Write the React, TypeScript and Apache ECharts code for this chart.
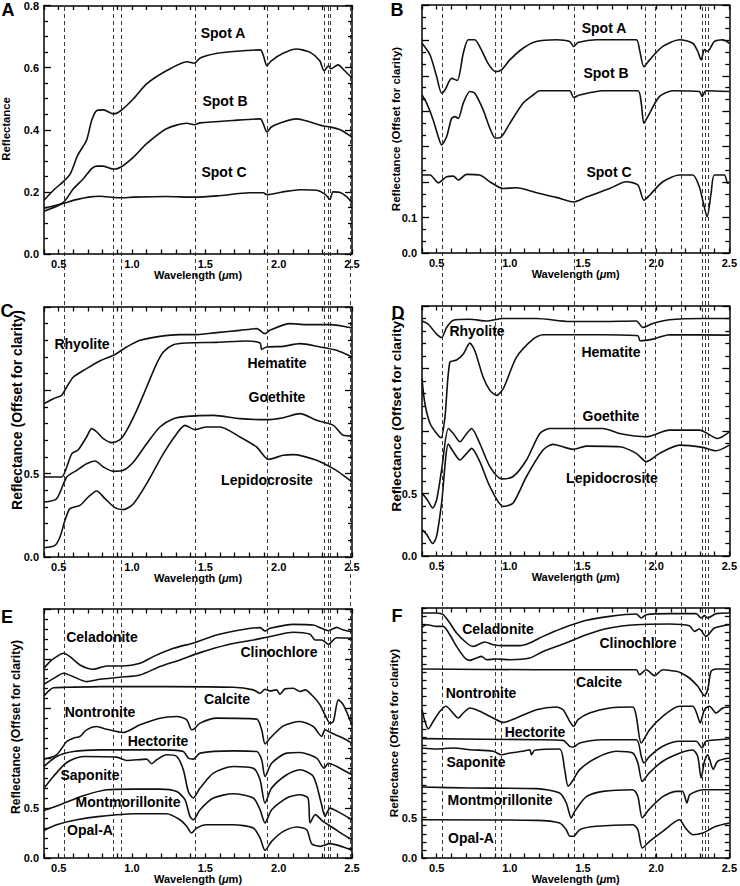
import React, { useEffect, useRef } from "react";
import * as echarts from "echarts";

type P = [number, number][];

const FONT = '"Liberation Sans", Arial, Helvetica, sans-serif';

// ---------- Panel A : reflectance of spots ----------
const spotNames = ["Spot A", "Spot B", "Spot C"];
const spotA_A: P = [[0.40,0.173],[0.475,0.21],[0.53,0.232],[0.58,0.259],[0.63,0.318],[0.69,0.366],[0.725,0.43],[0.76,0.462],[0.805,0.464],[0.875,0.451],[0.925,0.462],[1.01,0.5],[1.10,0.548],[1.235,0.59],[1.375,0.619],[1.425,0.614],[1.465,0.631],[1.58,0.646],[1.69,0.652],[1.875,0.657],[1.895,0.64],[1.92,0.606],[1.95,0.622],[2.03,0.646],[2.12,0.66],[2.215,0.649],[2.28,0.622],[2.31,0.59],[2.34,0.606],[2.355,0.596],[2.405,0.609],[2.45,0.59],[2.5,0.567]];
const spotB_A: P = [[0.40,0.138],[0.53,0.165],[0.6,0.21],[0.67,0.243],[0.725,0.275],[0.76,0.283],[0.805,0.283],[0.875,0.273],[0.925,0.28],[1.01,0.312],[1.10,0.355],[1.235,0.403],[1.375,0.421],[1.425,0.416],[1.465,0.422],[1.69,0.43],[1.875,0.435],[1.895,0.419],[1.92,0.393],[1.95,0.409],[2.03,0.425],[2.12,0.435],[2.215,0.425],[2.305,0.412],[2.35,0.409],[2.42,0.4],[2.5,0.376]];
const spotC_A: P = [[0.40,0.147],[0.53,0.163],[0.62,0.175],[0.715,0.184],[0.78,0.186],[0.875,0.182],[0.92,0.181],[1.01,0.183],[1.235,0.185],[1.425,0.183],[1.58,0.187],[1.805,0.197],[1.895,0.197],[1.92,0.191],[2.03,0.2],[2.145,0.207],[2.26,0.205],[2.315,0.193],[2.35,0.176],[2.37,0.2],[2.42,0.198],[2.465,0.184],[2.5,0.165]];

// ---------- Panel B : offset spectra of spots ----------
const spotA_B: P = [[0.40,0.592],[0.455,0.559],[0.50,0.498],[0.534,0.451],[0.557,0.46],[0.602,0.493],[0.641,0.487],[0.682,0.564],[0.716,0.602],[0.76,0.602],[0.805,0.574],[0.85,0.536],[0.902,0.512],[0.943,0.517],[1.0,0.545],[1.09,0.578],[1.18,0.597],[1.318,0.602],[1.409,0.597],[1.436,0.583],[1.466,0.594],[1.59,0.602],[1.864,0.602],[1.886,0.574],[1.916,0.526],[1.955,0.545],[2.045,0.583],[2.16,0.602],[2.25,0.592],[2.284,0.569],[2.307,0.545],[2.33,0.574],[2.352,0.569],[2.398,0.597],[2.455,0.602],[2.5,0.592]];
const spotB_B: P = [[0.40,0.446],[0.432,0.423],[0.477,0.375],[0.511,0.328],[0.534,0.305],[0.568,0.328],[0.602,0.38],[0.625,0.385],[0.648,0.38],[0.682,0.423],[0.727,0.456],[0.761,0.451],[0.818,0.404],[0.864,0.352],[0.902,0.324],[0.943,0.328],[1.0,0.366],[1.09,0.423],[1.159,0.446],[1.205,0.458],[1.409,0.458],[1.436,0.439],[1.477,0.446],[1.636,0.458],[1.875,0.458],[1.898,0.423],[1.916,0.366],[1.943,0.385],[2.023,0.442],[2.114,0.458],[2.295,0.456],[2.314,0.442],[2.34,0.458],[2.5,0.456]];
const spotC_B: P = [[0.40,0.22],[0.455,0.22],[0.511,0.198],[0.568,0.215],[0.614,0.217],[0.648,0.206],[0.705,0.222],[0.795,0.22],[0.864,0.201],[0.955,0.182],[1.045,0.184],[1.182,0.17],[1.318,0.157],[1.436,0.144],[1.523,0.158],[1.682,0.182],[1.795,0.201],[1.875,0.192],[1.916,0.149],[1.955,0.163],[2.045,0.201],[2.16,0.22],[2.25,0.22],[2.295,0.187],[2.318,0.149],[2.348,0.102],[2.375,0.168],[2.398,0.22],[2.466,0.22],[2.489,0.196],[2.5,0.201]];

// ---------- Panel C / D : iron minerals ----------
const ironNames = ["Rhyolite", "Hematite", "Goethite", "Lepidocrosite"];
const rhyolite_C: P = [[0.4,0.92],[0.464,0.95],[0.52,0.97],[0.555,1.02],[0.6,1.08],[0.69,1.13],[0.78,1.176],[0.873,1.21],[0.964,1.26],[1.055,1.30],[1.19,1.324],[1.327,1.334],[1.44,1.334],[1.577,1.346],[1.736,1.36],[1.85,1.37],[1.907,1.34],[1.94,1.36],[2.077,1.40],[2.19,1.394],[2.35,1.394],[2.5,1.374]];
const hematite_C: P = [[0.4,0.48],[0.52,0.48],[0.555,0.54],[0.59,0.62],[0.634,0.644],[0.69,0.72],[0.725,0.77],[0.76,0.75],[0.805,0.71],[0.861,0.686],[0.918,0.704],[0.964,0.76],[1.032,0.88],[1.1,1.02],[1.168,1.16],[1.214,1.23],[1.282,1.274],[1.373,1.284],[1.577,1.288],[1.782,1.296],[1.873,1.284],[1.884,1.246],[1.918,1.26],[2.032,1.264],[2.145,1.28],[2.282,1.26],[2.395,1.24],[2.5,1.20]];
const goethite_C: P = [[0.4,0.33],[0.486,0.35],[0.555,0.48],[0.623,0.52],[0.69,0.56],[0.748,0.576],[0.805,0.54],[0.873,0.514],[0.941,0.52],[1.01,0.57],[1.1,0.68],[1.19,0.78],[1.282,0.83],[1.373,0.844],[1.555,0.85],[1.736,0.83],[1.918,0.824],[2.032,0.836],[2.145,0.86],[2.259,0.82],[2.373,0.79],[2.441,0.73],[2.5,0.726]];
const lepido_C: P = [[0.4,0.056],[0.475,0.07],[0.509,0.12],[0.543,0.22],[0.577,0.29],[0.645,0.31],[0.702,0.36],[0.759,0.396],[0.816,0.35],[0.884,0.296],[0.941,0.284],[1.01,0.32],[1.1,0.44],[1.214,0.62],[1.305,0.74],[1.361,0.79],[1.43,0.764],[1.509,0.78],[1.6,0.78],[1.736,0.72],[1.85,0.66],[1.93,0.586],[2.032,0.61],[2.1,0.614],[2.259,0.58],[2.373,0.53],[2.441,0.49],[2.5,0.45]];
const rhyolite_D: P = [[0.4,1.88],[0.443,1.854],[0.5,1.775],[0.534,1.748],[0.568,1.828],[0.614,1.886],[0.727,1.894],[0.841,1.88],[0.955,1.9],[1.182,1.9],[1.409,1.876],[1.636,1.876],[1.864,1.88],[1.909,1.828],[1.977,1.86],[2.09,1.89],[2.318,1.9],[2.5,1.9]];
const hematite_D: P = [[0.4,1.417],[0.42,1.218],[0.455,1.06],[0.5,0.98],[0.53,0.946],[0.557,1.113],[0.59,1.55],[0.636,1.568],[0.682,1.616],[0.727,1.703],[0.761,1.642],[0.818,1.43],[0.864,1.325],[0.909,1.285],[0.955,1.338],[1.045,1.589],[1.159,1.735],[1.227,1.77],[1.636,1.77],[1.875,1.762],[1.89,1.722],[1.977,1.735],[2.09,1.77],[2.5,1.767]];
const goethite_D: P = [[0.4,0.503],[0.436,0.45],[0.473,0.384],[0.5,0.45],[0.534,0.689],[0.58,1.02],[0.614,0.98],[0.659,0.914],[0.705,0.98],[0.739,1.02],[0.795,0.9],[0.864,0.715],[0.943,0.617],[1.023,0.636],[1.114,0.768],[1.205,0.98],[1.273,1.02],[1.636,1.02],[1.75,0.98],[1.932,0.954],[2.09,1.007],[2.295,1.007],[2.42,0.94],[2.5,0.993]];
const lepido_D: P = [[0.4,0.212],[0.432,0.172],[0.473,0.1],[0.5,0.159],[0.534,0.424],[0.58,0.895],[0.614,0.834],[0.659,0.768],[0.705,0.821],[0.739,0.861],[0.795,0.755],[0.864,0.556],[0.955,0.397],[1.023,0.424],[1.114,0.636],[1.227,0.848],[1.295,0.893],[1.432,0.853],[1.523,0.879],[1.75,0.874],[1.864,0.821],[1.932,0.755],[2.023,0.821],[2.159,0.887],[2.318,0.869],[2.409,0.842],[2.5,0.887]];

// ---------- Panel E / F : clays and others ----------
const clayNames = ["Celadonite", "Clinochlore", "Calcite", "Nontronite", "Hectorite", "Saponite", "Montmorillonite", "Opal-A"];
const celadonite_E: P = [[0.4,1.905],[0.44,1.972],[0.486,2.022],[0.532,2.055],[0.577,2.022],[0.645,1.938],[0.736,1.895],[0.827,1.928],[0.941,1.928],[1.055,1.955],[1.145,2.022],[1.282,2.105],[1.425,2.162],[1.577,2.239],[1.736,2.289],[1.873,2.313],[1.907,2.279],[1.941,2.306],[2.1,2.346],[2.236,2.339],[2.293,2.306],[2.339,2.282],[2.395,2.316],[2.441,2.289],[2.5,2.272]];
const clinochlore_E: P = [[0.4,1.745],[0.486,1.821],[0.532,1.855],[0.6,1.821],[0.69,1.771],[0.782,1.795],[0.918,1.815],[1.055,1.838],[1.19,1.922],[1.327,1.989],[1.464,2.062],[1.645,2.139],[1.827,2.189],[1.918,2.216],[2.1,2.266],[2.214,2.246],[2.248,2.189],[2.293,2.189],[2.339,2.146],[2.395,2.212],[2.5,2.206]];
const calcite_E: P = [[0.4,1.628],[0.465,1.71],[0.555,1.714],[0.782,1.721],[1.236,1.721],[1.69,1.714],[1.827,1.688],[1.873,1.654],[1.907,1.694],[1.941,1.678],[1.986,1.688],[2.009,1.644],[2.043,1.698],[2.1,1.704],[2.145,1.671],[2.18,1.688],[2.236,1.621],[2.282,1.537],[2.316,1.437],[2.35,1.354],[2.373,1.37],[2.407,1.588],[2.441,1.537],[2.5,1.337]];
const nontronite_E: P = [[0.4,0.993],[0.486,1.036],[0.555,1.17],[0.6,1.203],[0.645,1.22],[0.69,1.287],[0.759,1.32],[0.827,1.293],[0.941,1.26],[1.055,1.337],[1.19,1.404],[1.305,1.42],[1.373,1.387],[1.407,1.287],[1.43,1.304],[1.464,1.354],[1.577,1.404],[1.85,1.394],[1.884,1.287],[1.907,1.146],[1.941,1.203],[2.032,1.327],[2.145,1.37],[2.236,1.32],[2.293,1.22],[2.316,1.287],[2.361,1.254],[2.441,1.203],[2.5,1.153]];
const hectorite_E: P = [[0.4,0.919],[0.486,1.019],[0.6,1.069],[0.782,1.086],[1.236,1.086],[1.35,1.069],[1.384,1.003],[1.418,0.993],[1.464,1.053],[1.69,1.076],[1.85,1.069],[1.884,0.986],[1.907,0.819],[1.952,0.952],[2.055,1.053],[2.145,1.059],[2.259,1.003],[2.309,0.902],[2.339,0.952],[2.418,0.902],[2.5,0.836]];
const saponite_E: P = [[0.4,0.702],[0.464,0.819],[0.555,0.959],[0.668,1.019],[0.895,1.013],[0.964,0.979],[1.1,0.993],[1.134,0.946],[1.168,0.986],[1.236,1.036],[1.305,1.019],[1.35,0.886],[1.384,0.668],[1.418,0.602],[1.464,0.702],[1.555,0.852],[1.69,0.919],[1.827,0.902],[1.873,0.785],[1.907,0.551],[1.952,0.702],[2.055,0.836],[2.145,0.886],[2.236,0.819],[2.29,0.552],[2.316,0.418],[2.35,0.501],[2.4,0.468],[2.5,0.384]];
const montmor_E: P = [[0.4,0.478],[0.509,0.535],[0.668,0.625],[0.827,0.685],[1.009,0.692],[1.19,0.692],[1.305,0.668],[1.361,0.585],[1.395,0.418],[1.418,0.384],[1.464,0.485],[1.555,0.602],[1.69,0.645],[1.827,0.602],[1.873,0.485],[1.907,0.351],[1.952,0.485],[2.055,0.602],[2.145,0.635],[2.2,0.602],[2.214,0.351],[2.25,0.435],[2.3,0.37],[2.373,0.301],[2.441,0.234],[2.5,0.184]];
const opal_E: P = [[0.4,0.277],[0.486,0.334],[0.623,0.384],[0.782,0.418],[1.009,0.445],[1.236,0.445],[1.327,0.384],[1.373,0.318],[1.407,0.251],[1.441,0.301],[1.509,0.334],[1.69,0.334],[1.827,0.301],[1.873,0.201],[1.907,0.077],[1.952,0.167],[2.032,0.267],[2.123,0.311],[2.191,0.284],[2.225,0.144],[2.282,0.117],[2.35,0.144],[2.441,0.11],[2.5,0.077]];
const celadonite_F: P = [[0.4,3.038],[0.5,3.038],[0.545,3.017],[0.59,2.914],[0.636,2.79],[0.705,2.666],[0.75,2.624],[0.83,2.678],[0.886,2.645],[0.955,2.633],[1.068,2.633],[1.136,2.666],[1.227,2.748],[1.364,2.852],[1.523,2.947],[1.682,2.996],[1.864,3.025],[1.898,2.976],[1.932,3.017],[2.09,3.03],[2.273,3.03],[2.307,2.976],[2.33,3.005],[2.352,2.976],[2.41,3.03],[2.5,3.038]];
const clinochlore_F: P = [[0.4,2.86],[0.432,2.893],[0.5,2.872],[0.545,2.872],[0.59,2.769],[0.636,2.624],[0.693,2.48],[0.727,2.451],[0.773,2.48],[0.807,2.5],[0.841,2.459],[0.909,2.467],[1.0,2.459],[1.136,2.48],[1.227,2.562],[1.364,2.653],[1.523,2.769],[1.682,2.852],[1.864,2.893],[2.09,2.901],[2.227,2.881],[2.261,2.81],[2.295,2.839],[2.341,2.748],[2.398,2.852],[2.5,2.893]];
const calcite_F: P = [[0.4,2.343],[1.182,2.335],[1.864,2.335],[1.886,2.273],[1.932,2.335],[1.989,2.261],[2.045,2.335],[2.136,2.315],[2.17,2.294],[2.227,2.232],[2.284,2.129],[2.33,2.013],[2.352,2.087],[2.375,2.315],[2.41,2.343],[2.5,2.343]];
const nontronite_F: P = [[0.4,1.839],[0.42,1.695],[0.443,1.6],[0.477,1.695],[0.523,1.819],[0.564,1.881],[0.602,1.819],[0.648,1.736],[0.682,1.798],[0.727,1.86],[0.795,1.819],[0.886,1.736],[0.955,1.682],[1.045,1.736],[1.182,1.839],[1.318,1.872],[1.364,1.839],[1.409,1.695],[1.436,1.633],[1.466,1.715],[1.545,1.798],[1.682,1.86],[1.84,1.872],[1.864,1.757],[1.898,1.426],[1.955,1.591],[2.045,1.757],[2.159,1.881],[2.25,1.881],[2.284,1.757],[2.3,1.674],[2.33,1.839],[2.364,1.881],[2.41,1.798],[2.455,1.86],[2.5,1.872]];
const hectorite_F: P = [[0.4,1.48],[1.182,1.467],[1.364,1.459],[1.409,1.385],[1.436,1.377],[1.477,1.426],[1.636,1.467],[1.864,1.467],[1.898,1.261],[1.916,1.178],[1.955,1.261],[2.045,1.385],[2.159,1.447],[2.273,1.447],[2.314,1.364],[2.34,1.447],[2.5,1.476]];
const saponite_F: P = [[0.4,1.364],[0.5,1.352],[0.614,1.364],[0.727,1.343],[0.886,1.323],[0.943,1.281],[1.0,1.302],[1.09,1.323],[1.136,1.343],[1.148,1.281],[1.17,1.335],[1.34,1.352],[1.375,1.095],[1.398,0.889],[1.427,0.951],[1.477,1.095],[1.59,1.24],[1.727,1.323],[1.84,1.302],[1.875,1.178],[1.905,0.95],[1.95,1.05],[2.045,1.2],[2.159,1.3],[2.25,1.34],[2.284,1.26],[2.307,0.992],[2.33,1.2],[2.352,1.28],[2.39,1.1],[2.42,1.2],[2.5,1.24]];
const montmor_F: P = [[0.4,0.88],[0.727,0.868],[1.182,0.86],[1.34,0.806],[1.386,0.682],[1.42,0.496],[1.443,0.578],[1.523,0.76],[1.636,0.826],[1.84,0.847],[1.875,0.764],[1.905,0.5],[1.95,0.6],[2.045,0.76],[2.136,0.826],[2.18,0.826],[2.21,0.682],[2.23,0.785],[2.318,0.847],[2.5,0.847]];
const opal_F: P = [[0.4,0.475],[1.182,0.467],[1.34,0.434],[1.386,0.351],[1.41,0.269],[1.436,0.269],[1.477,0.351],[1.59,0.393],[1.84,0.413],[1.875,0.351],[1.905,0.124],[1.955,0.207],[2.045,0.331],[2.159,0.475],[2.2,0.372],[2.25,0.289],[2.318,0.31],[2.409,0.393],[2.5,0.434]];

// ---------- reference wavelengths (dashed lines) ----------
const dashedLeft = [0.535, 0.87, 0.925, 1.425, 1.915, 2.31, 2.34, 2.355, 2.49];
const dashedRight = [0.535, 0.9, 0.945, 1.435, 1.915, 1.99, 2.165, 2.31, 2.335, 2.355];

// ---------- tick labels ----------
const xLabels = [0.5, 1.0, 1.5, 2.0, 2.5];

interface Panel {
  letter: string; left: number; top: number; height: number;
  yMax: number; yLabels: number[]; yInterval: number; yMinorSplit: number;
  curves: P[]; names: string[]; labelPos: [number, number][];
  title: string; titlePos: [number, number]; titleSize: number; letterPos: [number, number];
}

const OFFSET_TITLE = "Reflectance (Offset for clarity)";

const panels: Panel[] = [
  { letter: "A", left: 44, top: 5, height: 249, yMax: 0.8, yLabels: [0, 0.2, 0.4, 0.6, 0.8], yInterval: 0.2, yMinorSplit: 4,
    curves: [spotA_A, spotB_A, spotC_A], names: spotNames, labelPos: [[223, 33], [225, 101], [224, 172]],
    title: "Reflectance", titlePos: [6, 129], titleSize: 11.3, letterPos: [8, 10] },
  { letter: "B", left: 422, top: 5, height: 248, yMax: 0.7, yLabels: [0, 0.1], yInterval: 0.1, yMinorSplit: 3,
    curves: [spotA_B, spotB_B, spotC_B], names: spotNames, labelPos: [[604, 28], [606, 73], [609, 172]],
    title: OFFSET_TITLE, titlePos: [396, 129], titleSize: 11.5, letterPos: [397, 10] },
  { letter: "C", left: 44, top: 307, height: 250, yMax: 1.5, yLabels: [0, 0.5], yInterval: 0.5, yMinorSplit: 5,
    curves: [rhyolite_C, hematite_C, goethite_C, lepido_C], names: ironNames, labelPos: [[82, 344], [277, 363], [277, 397], [267, 480]],
    title: OFFSET_TITLE, titlePos: [17, 410], titleSize: 14, letterPos: [7, 311] },
  { letter: "D", left: 422, top: 306, height: 250, yMax: 2.0, yLabels: [0, 0.5], yInterval: 0.5, yMinorSplit: 5,
    curves: [rhyolite_D, hematite_D, goethite_D, lepido_D], names: ironNames, labelPos: [[477, 331], [611, 352], [611, 416], [612, 478]],
    title: OFFSET_TITLE, titlePos: [396, 414], titleSize: 13.7, letterPos: [398, 313] },
  { letter: "E", left: 44, top: 609, height: 249, yMax: 2.5, yLabels: [0, 0.5], yInterval: 0.5, yMinorSplit: 5,
    curves: [celadonite_E, clinochlore_E, calcite_E, nontronite_E, hectorite_E, saponite_E, montmor_E, opal_E], names: clayNames,
    labelPos: [[102, 637], [279, 652], [227, 699], [100, 712], [158, 741], [90, 775], [128, 802], [90, 830]],
    title: OFFSET_TITLE, titlePos: [16, 727], titleSize: 12.2, letterPos: [7, 617] },
  { letter: "F", left: 422, top: 608, height: 250, yMax: 3.1, yLabels: [0, 0.5], yInterval: 0.1, yMinorSplit: 0,
    curves: [celadonite_F, clinochlore_F, calcite_F, nontronite_F, hectorite_F, saponite_F, montmor_F, opal_F], names: clayNames,
    labelPos: [[498, 629], [638, 643], [599, 682], [481, 693], [535, 732], [476, 762], [500, 800], [471, 838]],
    title: OFFSET_TITLE, titlePos: [394, 733], titleSize: 11.8, letterPos: [397, 616] },
];

const PLOT_W = 308;
const BLACK = "#000";

const inList = (list: number[], v: number) => list.some((l) => Math.abs(l - v) < 1e-6);

function buildOption() {
  const grid: any[] = [];
  const xAxis: any[] = [];
  const yAxis: any[] = [];
  const series: any[] = [];
  const graphic: any[] = [];

  const tickStyle = { color: BLACK, width: 1.3 };
  const lineStyle = { color: BLACK, width: 1.5 };
  const labelStyle = { color: BLACK, fontFamily: FONT, fontWeight: "bold", fontSize: 11 };

  panels.forEach((p, g) => {
    grid.push({ left: p.left, top: p.top, width: PLOT_W, height: p.height, show: false, containLabel: false });
    const xBase = {
      type: "value", gridIndex: g, min: 0.4, max: 2.5, interval: 0.1,
      axisLine: { show: true, onZero: false, lineStyle },
      axisTick: { show: true, inside: true, length: 4.5, lineStyle: tickStyle },
      splitLine: { show: false },
    };
    const yBase = {
      type: "value", gridIndex: g, min: 0, max: p.yMax, interval: p.yInterval,
      axisLine: { show: true, onZero: false, lineStyle },
      axisTick: { show: true, inside: true, length: p.yMinorSplit ? 7 : 4.5, lineStyle: tickStyle },
      minorTick: { show: p.yMinorSplit > 0, splitNumber: p.yMinorSplit || 5, length: 4, lineStyle: tickStyle },
      splitLine: { show: false },
    };
    xAxis.push(
      { ...xBase, position: "bottom",
        axisLabel: { ...labelStyle, show: true, margin: 4,
          formatter: (v: number) => (inList(xLabels, v) ? v.toFixed(1) : "") },
        name: "Wavelength ({i|\u03bc}m)", nameLocation: "middle", nameGap: 14,
        nameTextStyle: { ...labelStyle, rich: { i: { ...labelStyle, fontStyle: "italic" } } } },
      { ...xBase, position: "top", axisLabel: { show: false } },
    );
    yAxis.push(
      { ...yBase, position: "left",
        axisLabel: { ...labelStyle, show: true, margin: 5, showMinLabel: true, showMaxLabel: true,
          formatter: (v: number) => (inList(p.yLabels, v) ? v.toFixed(1) : "") } },
      { ...yBase, position: "right", axisLabel: { show: false } },
    );
    p.curves.forEach((data, i) => {
      series.push({
        type: "line", name: `${p.letter} ${p.names[i]}`, xAxisIndex: g * 2, yAxisIndex: g * 2,
        data, symbol: "none", showSymbol: false, smooth: 0.25, silent: true, z: 4,
        lineStyle: { color: "#111", width: 1.6 },
      });
      const [lx, ly] = p.labelPos[i];
      graphic.push({ type: "text", x: lx, y: ly, z: 10,
        style: { text: p.names[i], fill: BLACK, font: `bold 14px ${FONT}`, textAlign: "center", textVerticalAlign: "middle" } });
    });
    graphic.push({ type: "text", x: p.titlePos[0], y: p.titlePos[1], rotation: Math.PI / 2, z: 10,
      style: { text: p.title, fill: BLACK, font: `bold ${p.titleSize}px ${FONT}`, textAlign: "center", textVerticalAlign: "middle" } });
    graphic.push({ type: "text", x: p.letterPos[0], y: p.letterPos[1], z: 10,
      style: { text: p.letter, fill: BLACK, font: `bold 18px ${FONT}`, textAlign: "center", textVerticalAlign: "middle" } });
  });

  // dashed reference-wavelength overlays spanning each column
  [[44, dashedLeft], [422, dashedRight]].forEach(([left, lines]: any, k) => {
    const gi = panels.length + k;
    grid.push({ left, top: 5, width: PLOT_W, height: 853, show: false });
    xAxis.push({ type: "value", gridIndex: gi, min: 0.4, max: 2.5, show: false });
    yAxis.push({ type: "value", gridIndex: gi, min: 0, max: 1, show: false });
    series.push({
      type: "line", xAxisIndex: xAxis.length - 1, yAxisIndex: yAxis.length - 1, data: [], silent: true, z: 1,
      markLine: { silent: true, symbol: ["none", "none"], label: { show: false },
        lineStyle: { type: [4, 3], color: "#222", width: 0.9 },
        data: (lines as number[]).map((v) => ({ xAxis: v })) },
    });
  });

  return { animation: false, backgroundColor: "#fff", grid, xAxis, yAxis, series, graphic };
}

export default function App() {
  const ref = useRef<HTMLDivElement>(null);
  useEffect(() => {
    document.body.style.margin = "0";
    if (!ref.current) return;
    const chart = echarts.init(ref.current, undefined, { renderer: "svg" });
    chart.setOption(buildOption() as any);
    return () => chart.dispose();
  }, []);
  return <div ref={ref} style={{ width: 740, height: 886 }} />;
}
